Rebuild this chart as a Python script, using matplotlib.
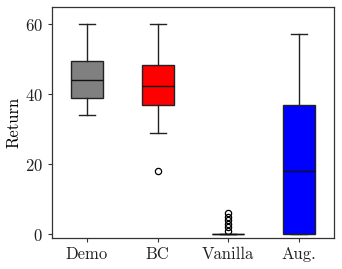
import matplotlib
matplotlib.use("Agg")
import matplotlib.pyplot as plt

plt.rcParams['font.family'] = 'cmr10'
plt.rcParams['mathtext.fontset'] = 'cm'
plt.rcParams['axes.formatter.use_mathtext'] = True

labels = ["Demo", "BC", "Vanilla", "Aug."]
whislo = [34, 29, 0, 0]
q1 = [39, 37.1, 0, 0]
med = [44, 42.4, 0, 18]
q3 = [49.6, 48.4, 0, 37]
whishi = [60, 60, 0, 57.2]
fliers = [[], [18], [1, 2, 3, 4, 5, 6], []]
colors = ["#808080", "#ff0000", "#808080", "#0000ff"]

stats = []
for i in range(4):
    stats.append(dict(label=labels[i], whislo=whislo[i], q1=q1[i], med=med[i],
                      q3=q3[i], whishi=whishi[i], fliers=fliers[i]))

fig = plt.figure(figsize=(3.42, 2.69), dpi=100)
ax = fig.add_axes([0.151, 0.1164, 0.8265, 0.8576])
ec = "#222222"
bp = ax.bxp(stats, positions=[1, 2, 3, 4], widths=0.45, patch_artist=True,
            boxprops=dict(edgecolor=ec, linewidth=1.0),
            medianprops=dict(color="#111111", linewidth=1.0),
            whiskerprops=dict(color=ec, linewidth=1.0),
            capprops=dict(color=ec, linewidth=1.0),
            flierprops=dict(marker='o', markerfacecolor='none', markeredgecolor='black',
                            markersize=4.5, markeredgewidth=0.9))
for patch, c in zip(bp['boxes'], colors):
    patch.set_facecolor(c)

ax.set_xlim(0.5, 4.5)
ax.set_ylim(-1, 65)
ax.set_yticks([0, 20, 40, 60])
ax.set_ylabel("Return", fontsize=12, labelpad=2)
ax.tick_params(labelsize=12, length=3, width=0.8, colors='#333333', labelcolor='#222222')
for s in ax.spines.values():
    s.set_color('#333333')
    s.set_linewidth(0.9)

fig.savefig("out.png", dpi=100)
